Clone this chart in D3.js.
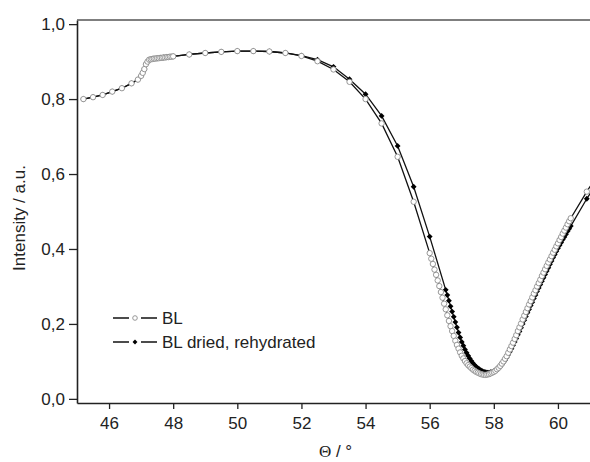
<!DOCTYPE html>
<html>
<head>
<meta charset="utf-8">
<script src="https://cdn.jsdelivr.net/npm/d3@7"></script>
<style>
  body { margin: 0; background: #fff; }
  svg { display: block; font-family: "Liberation Sans", Arial, sans-serif; }
</style>
</head>
<body>
<div id="graph"></div>
<script>
// angle (deg) and intensity
var blTheta = [45.2, 45.5, 45.8, 46.1, 46.4, 46.7, 46.9, 47.0, 47.05, 47.1, 47.15, 47.2, 47.25,
  47.3, 47.35, 47.4, 47.45, 47.5, 47.55, 47.6, 47.65, 47.7, 47.75, 47.8, 47.85, 47.9, 47.95, 48.0,
  48.5, 49.0, 49.5, 50.0, 50.5, 51.0, 51.5, 52.0, 52.5, 53.0, 53.5, 54.0, 54.5, 55.0, 55.5, 56.0,
  56.05, 56.1, 56.15, 56.2, 56.25, 56.3, 56.35, 56.4, 56.45, 56.5, 56.55, 56.6, 56.65, 56.7, 56.75, 56.8,
  56.85, 56.9, 56.95, 57.0, 57.05, 57.1, 57.15, 57.2, 57.25, 57.3, 57.35, 57.4, 57.45, 57.5, 57.55, 57.6,
  57.65, 57.7, 57.75, 57.8, 57.85, 57.9, 57.95, 58.0, 58.05, 58.1, 58.15, 58.2, 58.25, 58.3, 58.35, 58.4,
  58.45, 58.5, 58.55, 58.6, 58.65, 58.7, 58.75, 58.8, 58.85, 58.9, 58.95, 59.0, 59.05, 59.1, 59.15, 59.2,
  59.25, 59.3, 59.35, 59.4, 59.45, 59.5, 59.55, 59.6, 59.65, 59.7, 59.75, 59.8, 59.85, 59.9, 59.95, 60.0,
  60.05, 60.1, 60.15, 60.2, 60.25, 60.3, 60.35, 60.4, 60.9, 61.4];
var blValue = [0.800, 0.805, 0.811, 0.820, 0.829, 0.842, 0.852, 0.862, 0.870, 0.880, 0.893, 0.900, 0.905,
  0.906, 0.907, 0.908, 0.908, 0.909, 0.909, 0.910, 0.910, 0.911, 0.911, 0.912, 0.912, 0.913, 0.913, 0.914,
  0.919, 0.923, 0.926, 0.928, 0.928, 0.927, 0.923, 0.915, 0.901, 0.879, 0.846, 0.800, 0.735, 0.646, 0.526, 0.389,
  0.374, 0.360, 0.345, 0.331, 0.316, 0.301, 0.285, 0.270, 0.254, 0.239, 0.223, 0.208, 0.194, 0.181, 0.168, 0.155,
  0.144, 0.134, 0.124, 0.115, 0.108, 0.101, 0.095, 0.090, 0.086, 0.082, 0.078, 0.075, 0.072, 0.070, 0.068, 0.066,
  0.065, 0.064, 0.064, 0.065, 0.066, 0.068, 0.070, 0.072, 0.075, 0.079, 0.083, 0.088, 0.094, 0.100, 0.107, 0.114,
  0.123, 0.132, 0.141, 0.150, 0.160, 0.170, 0.181, 0.191, 0.201, 0.212, 0.222, 0.232, 0.242, 0.252, 0.261, 0.271,
  0.281, 0.290, 0.300, 0.309, 0.318, 0.328, 0.337, 0.346, 0.355, 0.364, 0.372, 0.381, 0.390, 0.398, 0.407, 0.415,
  0.424, 0.432, 0.441, 0.449, 0.457, 0.466, 0.474, 0.482, 0.553, 0.620];

var driedTheta = [45.2, 45.5, 45.8, 46.1, 46.4, 46.7, 46.9, 47.0, 47.05, 47.1, 47.15, 47.2, 47.25,
  47.3, 47.4, 47.5, 47.6, 47.7, 47.8, 47.9, 48.0,
  48.5, 49.0, 49.5, 50.0, 50.5, 51.0, 51.5, 52.0, 52.5, 53.0, 53.5, 54.0, 54.5, 55.0, 55.5, 56.0, 56.5,
  56.55, 56.6, 56.65, 56.7, 56.75, 56.8, 56.85, 56.9, 56.95, 57.0, 57.05, 57.1, 57.15, 57.2, 57.25, 57.3,
  57.35, 57.4, 57.45, 57.5, 57.55, 57.6, 57.65, 57.7, 57.75, 57.8, 57.85, 57.9, 57.95, 58.0, 58.05, 58.1,
  58.15, 58.2, 58.25, 58.3, 58.35, 58.4, 58.45, 58.5, 58.55, 58.6, 58.65, 58.7, 58.75, 58.8, 58.85, 58.9,
  58.95, 59.0, 59.05, 59.1, 59.15, 59.2, 59.25, 59.3, 59.35, 59.4, 59.45, 59.5, 59.55, 59.6, 59.65, 59.7,
  59.75, 59.8, 59.85, 59.9, 59.95, 60.0, 60.05, 60.1, 60.15, 60.2, 60.25, 60.3, 60.35, 60.4, 60.9, 61.4];
var driedValue = [0.800, 0.805, 0.811, 0.820, 0.829, 0.842, 0.852, 0.862, 0.870, 0.880, 0.893, 0.900, 0.905,
  0.906, 0.908, 0.909, 0.910, 0.911, 0.912, 0.913, 0.914,
  0.919, 0.923, 0.926, 0.928, 0.928, 0.927, 0.923, 0.916, 0.905, 0.886, 0.853, 0.813, 0.755, 0.675, 0.566, 0.433, 0.291,
  0.277, 0.262, 0.247, 0.233, 0.219, 0.205, 0.191, 0.177, 0.164, 0.152, 0.142, 0.132, 0.123, 0.115, 0.108, 0.101,
  0.095, 0.090, 0.086, 0.082, 0.079, 0.076, 0.074, 0.072, 0.071, 0.070, 0.070, 0.071, 0.072, 0.074, 0.076, 0.079,
  0.082, 0.086, 0.091, 0.097, 0.103, 0.110, 0.118, 0.126, 0.134, 0.143, 0.152, 0.161, 0.171, 0.180, 0.190, 0.200,
  0.210, 0.220, 0.230, 0.239, 0.249, 0.258, 0.268, 0.277, 0.287, 0.296, 0.305, 0.314, 0.323, 0.332, 0.341, 0.350,
  0.359, 0.368, 0.377, 0.385, 0.394, 0.402, 0.410, 0.417, 0.425, 0.432, 0.439, 0.447, 0.454, 0.461, 0.534, 0.600];

var xTicks = [46, 48, 50, 52, 54, 56, 58, 60];
var yTicks = [0, 0.2, 0.4, 0.6, 0.8, 1.0];
var seriesNames = ["BL", "BL dried, rehydrated"];

var W = 590, H = 462;
var pLeft = 77, pRight = 590, pTop = 20, pBottom = 403;

var svg = d3.select("#graph").append("svg")
  .attr("width", W)
  .attr("height", H);

var x = d3.scaleLinear().domain([45, 61]).range([pLeft, pRight]);
var y = d3.scaleLinear().domain([-0.011, 1.011]).range([pBottom, pTop]);

function pts(t, v) { return t.map(function (d, i) { return { t: d, v: v[i] }; }); }
var bl = pts(blTheta, blValue);
var dried = pts(driedTheta, driedValue);

svg.append("clipPath").attr("id", "clip")
  .append("rect")
  .attr("x", pLeft).attr("y", pTop)
  .attr("width", pRight - pLeft).attr("height", pBottom - pTop);

var line = d3.line()
  .x(function (d) { return x(d.t); })
  .y(function (d) { return y(d.v); });

var plot = svg.append("g").attr("clip-path", "url(#clip)");

// square turned 45 degrees, same width and height
var diamond = d3.symbol().type(d3.symbolSquare).size(17);

// dried series underneath
plot.append("path").datum(dried)
  .attr("fill", "none").attr("stroke", "#111").attr("stroke-width", 1.3)
  .attr("d", line);
plot.selectAll(".dia").data(dried).enter().append("path")
  .attr("class", "dia")
  .attr("transform", function (d) { return "translate(" + x(d.t) + "," + y(d.v) + ") rotate(45)"; })
  .attr("d", diamond)
  .attr("fill", "#000");

// BL on top
plot.append("path").datum(bl)
  .attr("fill", "none").attr("stroke", "#111").attr("stroke-width", 1.3)
  .attr("d", line);
plot.selectAll(".circ").data(bl).enter().append("circle")
  .attr("class", "circ")
  .attr("cx", function (d) { return x(d.t); })
  .attr("cy", function (d) { return y(d.v); })
  .attr("r", 2.7)
  .attr("fill", "#fff")
  .attr("stroke", "#8c8c8c")
  .attr("stroke-width", 0.9);

// axes
var xAxis = svg.append("g")
  .attr("transform", "translate(0," + pBottom + ")")
  .call(d3.axisBottom(x).tickValues(xTicks).tickSize(6).tickPadding(8).tickSizeOuter(0));
var yAxis = svg.append("g")
  .attr("transform", "translate(" + pLeft + ",0)")
  .call(d3.axisLeft(y).tickValues(yTicks).tickSize(8).tickPadding(4).tickSizeOuter(0)
    .tickFormat(function (d) { return d3.format(".1f")(d).replace(".", ","); }));

[xAxis, yAxis].forEach(function (a) {
  a.select(".domain").attr("stroke", "#222").attr("stroke-width", 1.6);
  a.selectAll(".tick line").attr("stroke", "#222").attr("stroke-width", 1.3);
  a.selectAll(".tick text").attr("fill", "#222").attr("font-size", 17)
    .attr("font-family", "Liberation Sans, Arial, sans-serif");
});

// top frame
svg.append("line")
  .attr("x1", pLeft).attr("x2", pRight)
  .attr("y1", pTop).attr("y2", pTop)
  .attr("stroke", "#555").attr("stroke-width", 1.6);

// axis titles
var xTitle = svg.append("text")
  .attr("x", (pLeft + pRight) / 2 + 2).attr("y", 457)
  .attr("text-anchor", "middle").attr("font-size", 17).attr("fill", "#222");
xTitle.append("tspan").attr("font-family", "Liberation Serif, serif").text("Θ");
xTitle.append("tspan").text(" / °");
svg.append("text")
  .attr("transform", "translate(25,218) rotate(-90)")
  .attr("text-anchor", "middle").attr("font-size", 17).attr("fill", "#222")
  .text("Intensity / a.u.");

// legend
var legend = svg.append("g");
seriesNames.forEach(function (name, i) {
  var ly = 318 + i * 24;
  legend.append("line").attr("x1", 113).attr("x2", 157).attr("y1", ly).attr("y2", ly)
    .attr("stroke", "#111").attr("stroke-width", 1.3);
  legend.append("rect").attr("x", 129).attr("y", ly - 4).attr("width", 12).attr("height", 8).attr("fill", "#fff");
  if (i === 0) {
    legend.append("circle").attr("cx", 135).attr("cy", ly).attr("r", 2.3)
      .attr("fill", "#fff").attr("stroke", "#8c8c8c").attr("stroke-width", 0.9);
  } else {
    legend.append("path").attr("transform", "translate(135," + ly + ") rotate(45)")
      .attr("d", d3.symbol().type(d3.symbolSquare).size(12)).attr("fill", "#000");
  }
  legend.append("text").attr("x", 162).attr("y", ly).attr("dy", "0.35em")
    .attr("font-size", 17).attr("fill", "#222").text(name);
});
</script>
</body>
</html>
